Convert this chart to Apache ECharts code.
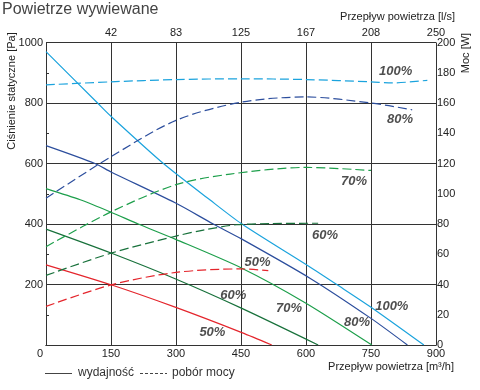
<!DOCTYPE html>
<html>
<head>
<meta charset="utf-8">
<script src="https://cdn.jsdelivr.net/npm/echarts@6/dist/echarts.min.js"></script>
<style>html,body{margin:0;padding:0;background:#fff}#c{width:480px;height:390px}</style>
</head>
<body>
<div id="c"></div>
<script>
// ---- data ----
const bottomTicks = [0, 150, 300, 450, 600, 750, 900];
const topTickLabels = ['', '42', '83', '125', '167', '208', '250'];

// static pressure [Pa] vs flow [m3/h] (solid)
const p100x = [0, 119, 150, 271, 378, 452, 609, 671, 750, 872];
const p100y = [970, 800, 756, 600, 480, 400, 258, 200, 125, 0];
const p80x = [0, 113, 150, 298, 386, 452, 609, 750, 834];
const p80y = [659, 600, 572, 470, 400, 350, 221, 88, 0];
const p70x = [0, 79, 150, 213, 298, 452, 598, 752];
const p70y = [517, 480, 439, 400, 350, 254, 140, 0];
const p60x = [0, 150, 298, 452, 628];
const p60y = [383, 304, 219, 121, 0];
const p50x = [0, 150, 298, 452, 521];
const p50y = [265, 199, 125, 41, 0];

// power [W] vs flow [m3/h] (dashed)
const w100x = [0, 150, 300, 450, 600, 750, 800, 880];
const w100y = [172, 174, 175.5, 176, 175.5, 174, 173.3, 175];
const w80x = [0, 150, 300, 450, 600, 750, 845];
const w80y = [97, 124.5, 148.5, 160.5, 164, 160, 155.5];
const w70x = [0, 150, 300, 425, 600, 750];
const w70y = [65, 88, 106, 113, 117.4, 115.4];
const w60x = [0, 150, 300, 363, 440, 520, 628];
const w60y = [46, 60.7, 72, 76, 79.5, 80.3, 80.5];
const w50x = [0, 150, 300, 450, 513];
const w50y = [25.5, 39.7, 48, 50.3, 49.2];

// annotation labels (flow, pressure, text)
const annX = [807, 817, 711, 644, 488, 432, 561, 384, 718, 798];
const annY = [903, 745, 541, 361, 272, 163, 120, 41, 74, 129];
const annT = ['100%', '80%', '70%', '60%', '50%', '60%', '70%', '50%', '80%', '100%'];

const legendNames = ['wydajność', 'pobór mocy'];

const colors = { c100: '#1ba3dd', c80: '#2c4e9d', c70: '#1d9f4b', c60: '#18713b', c50: '#e4252c' };

// ---- chart ----
const zip = (a, b) => a.map((v, i) => [v, b[i]]);
const font = 'Liberation Sans, Arial, sans-serif';
const AX = '#333';

function solid(name, xs, ys, color) {
  return { type: 'line', name, data: zip(xs, ys), xAxisIndex: 0, yAxisIndex: 0, symbol: 'none',
    smooth: 0.25, lineStyle: { color, width: 1.2 }, silent: true, z: 3 };
}
function dashed(name, xs, ys, color) {
  return { type: 'line', name, data: zip(xs, ys), xAxisIndex: 0, yAxisIndex: 1, symbol: 'none',
    smooth: 0.3, lineStyle: { color, width: 1.2, type: [9, 4] }, silent: true, z: 3 };
}

const chart = echarts.init(document.getElementById('c'), null, { renderer: 'canvas' });
chart.setOption({
  animation: false,
  backgroundColor: '#fff',
  textStyle: { fontFamily: font },
  title: { text: 'Powietrze wywiewane', left: 2, top: 2, padding: 0,
    textStyle: { fontSize: 16, fontWeight: 'normal', color: '#444', fontFamily: font } },
  grid: { left: 46, right: 44, top: 42.5, bottom: 45, containLabel: false },
  xAxis: [
    { type: 'value', position: 'bottom', min: 0, max: 900, interval: 150,
      axisLine: { show: true, lineStyle: { color: AX, width: 1 } },
      axisTick: { show: false },
      splitLine: { show: true, lineStyle: { color: AX, width: 1 } },
      axisLabel: { color: '#222', fontSize: 11, margin: 3, fontFamily: font,
        formatter: v => v === 0 ? '{z|0}' : String(v),
        rich: { z: { fontSize: 11, color: '#222', padding: [0, 12, 0, 0], fontFamily: font } } } },
    { type: 'value', position: 'top', min: 0, max: 900, interval: 150,
      axisLine: { show: true, lineStyle: { color: AX, width: 1 } },
      axisTick: { show: false }, splitLine: { show: false },
      axisLabel: { color: '#222', fontSize: 11, margin: 4, fontFamily: font,
        formatter: v => topTickLabels[bottomTicks.indexOf(v)] || '' } }
  ],
  yAxis: [
    { type: 'value', position: 'left', min: 0, max: 1000, interval: 200,
      axisLine: { show: true, lineStyle: { color: AX, width: 1 } },
      axisTick: { show: false },
      splitLine: { show: true, lineStyle: { color: AX, width: 1 } },
      axisLabel: { color: '#222', fontSize: 11, margin: 3, showMinLabel: false, fontFamily: font,
        formatter: v => String(v) } },
    { type: 'value', position: 'right', min: 0, max: 200, interval: 20,
      axisLine: { show: true, lineStyle: { color: AX, width: 1 } },
      axisTick: { show: true, length: 3, lineStyle: { color: AX } },
      splitLine: { show: false },
      axisLabel: { color: '#222', fontSize: 11, margin: 1, fontFamily: font, formatter: v => String(v) } }
  ],
  graphic: [
    { type: 'text', right: 25, top: 11, style: { text: 'Przepływ powietrza [l/s]', font: '11px ' + font, fill: '#222' } },
    { type: 'text', right: 26, top: 361, style: { text: 'Przepływ powietrza [m³/h]', font: '11px ' + font, fill: '#222' } },
    { type: 'text', x: 12, y: 91, rotation: Math.PI / 2,
      style: { text: 'Ciśnienie statyczne [Pa]', font: '11px ' + font, fill: '#222', align: 'center', verticalAlign: 'middle' } },
    { type: 'text', x: 466, y: 53, rotation: Math.PI / 2,
      style: { text: 'Moc [W]', font: '11px ' + font, fill: '#222', align: 'center', verticalAlign: 'middle' } },
    // legend
    { type: 'line', shape: { x1: 45, y1: 373.5, x2: 72, y2: 373.5 }, style: { stroke: '#444', lineWidth: 1 } },
    { type: 'text', x: 78, y: 373, style: { text: legendNames[0], font: '12px ' + font, fill: '#333', verticalAlign: 'middle' } },
    { type: 'line', shape: { x1: 140, y1: 373.5, x2: 167, y2: 373.5 }, style: { stroke: '#444', lineWidth: 1, lineDash: [3, 2] } },
    { type: 'text', x: 172, y: 373, style: { text: legendNames[1], font: '12px ' + font, fill: '#333', verticalAlign: 'middle' } }
  ],
  series: [
    solid('p100', p100x, p100y, colors.c100),
    solid('p80', p80x, p80y, colors.c80),
    solid('p70', p70x, p70y, colors.c70),
    solid('p60', p60x, p60y, colors.c60),
    solid('p50', p50x, p50y, colors.c50),
    dashed('w100', w100x, w100y, colors.c100),
    dashed('w80', w80x, w80y, colors.c80),
    dashed('w70', w70x, w70y, colors.c70),
    dashed('w60', w60x, w60y, colors.c60),
    dashed('w50', w50x, w50y, colors.c50),
    { type: 'scatter', name: 'labels', xAxisIndex: 0, yAxisIndex: 0, symbolSize: 0, silent: true, z: 10,
      data: annX.map((x, i) => [x, annY[i], annT[i]]),
      label: { show: true, position: 'inside', formatter: p => p.data[2],
        fontSize: 13, fontWeight: 'bold', fontStyle: 'italic', color: '#222', fontFamily: font } }
  ]
});
</script>
</body>
</html>
